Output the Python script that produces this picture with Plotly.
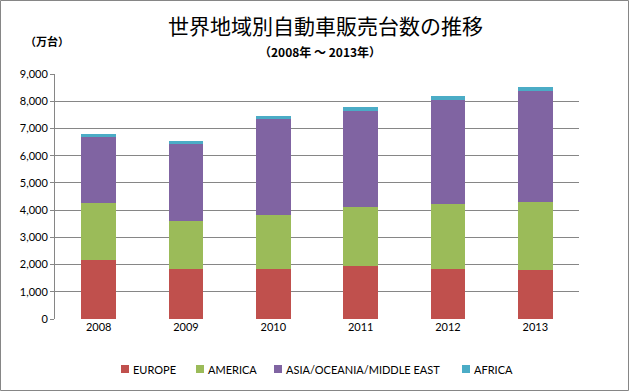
import plotly.graph_objects as go

years = ["2008", "2009", "2010", "2011", "2012", "2013"]
europe = [2170, 1840, 1840, 1950, 1840, 1800]
america = [2090, 1760, 1980, 2165, 2385, 2500]
asia = [2430, 2830, 3530, 3525, 3820, 4075]
africa = [110, 110, 110, 147, 147, 147]
series = [
    ("EUROPE", europe, "#C0504D"),
    ("AMERICA", america, "#9BBB59"),
    ("ASIA/OCEANIA/MIDDLE EAST", asia, "#8064A2"),
    ("AFRICA", africa, "#4BACC6"),
]

W, H = 629, 391
L, R, T, B = 55, 50, 74, 72
pw, ph = W - L - R, H - T - B

fig = go.Figure()
for name, vals, col in series:
    fig.add_trace(go.Bar(x=years, y=vals, name=name, marker=dict(color=col, line=dict(width=0))))


def px_x(x):
    return (x - L) / pw


def px_y(y):
    return (H - B - y) / ph


font_main = "Lato, Calibri, Liberation Sans, sans-serif"
cjk = "Noto Sans CJK JP, sans-serif"

shapes = [dict(type="rect", xref="paper", yref="paper", x0=px_x(0.5), x1=px_x(628.5),
               y0=px_y(390.5), y1=px_y(0.5), line=dict(color="#868686", width=1))]
annotations = [
    dict(text="世界地域別自動車販売台数の推移", xref="paper", yref="paper", x=px_x(325), y=px_y(25),
         xanchor="center", yanchor="middle", showarrow=False, font=dict(family=cjk, size=21)),
    dict(text="<b>（2008年 ～ 2013年）</b>", xref="paper", yref="paper", x=px_x(320), y=px_y(51),
         xanchor="center", yanchor="middle", showarrow=False, font=dict(family=cjk, size=12)),
    dict(text="<b>（万台）</b>", xref="paper", yref="paper", x=px_x(47), y=px_y(41),
         xanchor="center", yanchor="middle", showarrow=False, font=dict(family=cjk, size=11)),
]

# custom legend (small squares + labels)
legend_x = [121, 196, 274, 462]
legend_y = 369
for (name, vals, col), lx in zip(series, legend_x):
    shapes.append(dict(type="rect", xref="paper", yref="paper", x0=px_x(lx), x1=px_x(lx + 8),
                       y0=px_y(legend_y + 4), y1=px_y(legend_y - 4), fillcolor=col, line=dict(width=0)))
    annotations.append(dict(text=name, xref="paper", yref="paper", x=px_x(lx + 10), y=px_y(legend_y),
                            xanchor="left", yanchor="middle", showarrow=False,
                            font=dict(family=font_main, size=11, color="#000000")))

fig.update_layout(
    width=W, height=H,
    margin=dict(l=L, r=R, t=T, b=B),
    barmode="stack", bargap=0.6,
    plot_bgcolor="white", paper_bgcolor="white",
    font=dict(family=font_main, size=11, color="#000000"),
    showlegend=False,
    xaxis=dict(showgrid=False, showline=False, ticks="", tickfont=dict(size=11, family=font_main)),
    yaxis=dict(range=[0, 9000], dtick=1000, tickformat=",d", showgrid=True, gridcolor="#868686",
               gridwidth=1, showline=True, linecolor="#868686", linewidth=1, ticks="outside",
               ticklen=4, tickcolor="#868686", zeroline=False, tickfont=dict(size=11, family=font_main)),
    shapes=shapes,
    annotations=annotations,
)

fig.write_html("out.html", config={"displayModeBar": False},
               post_script="document.body.style.margin='0';")
